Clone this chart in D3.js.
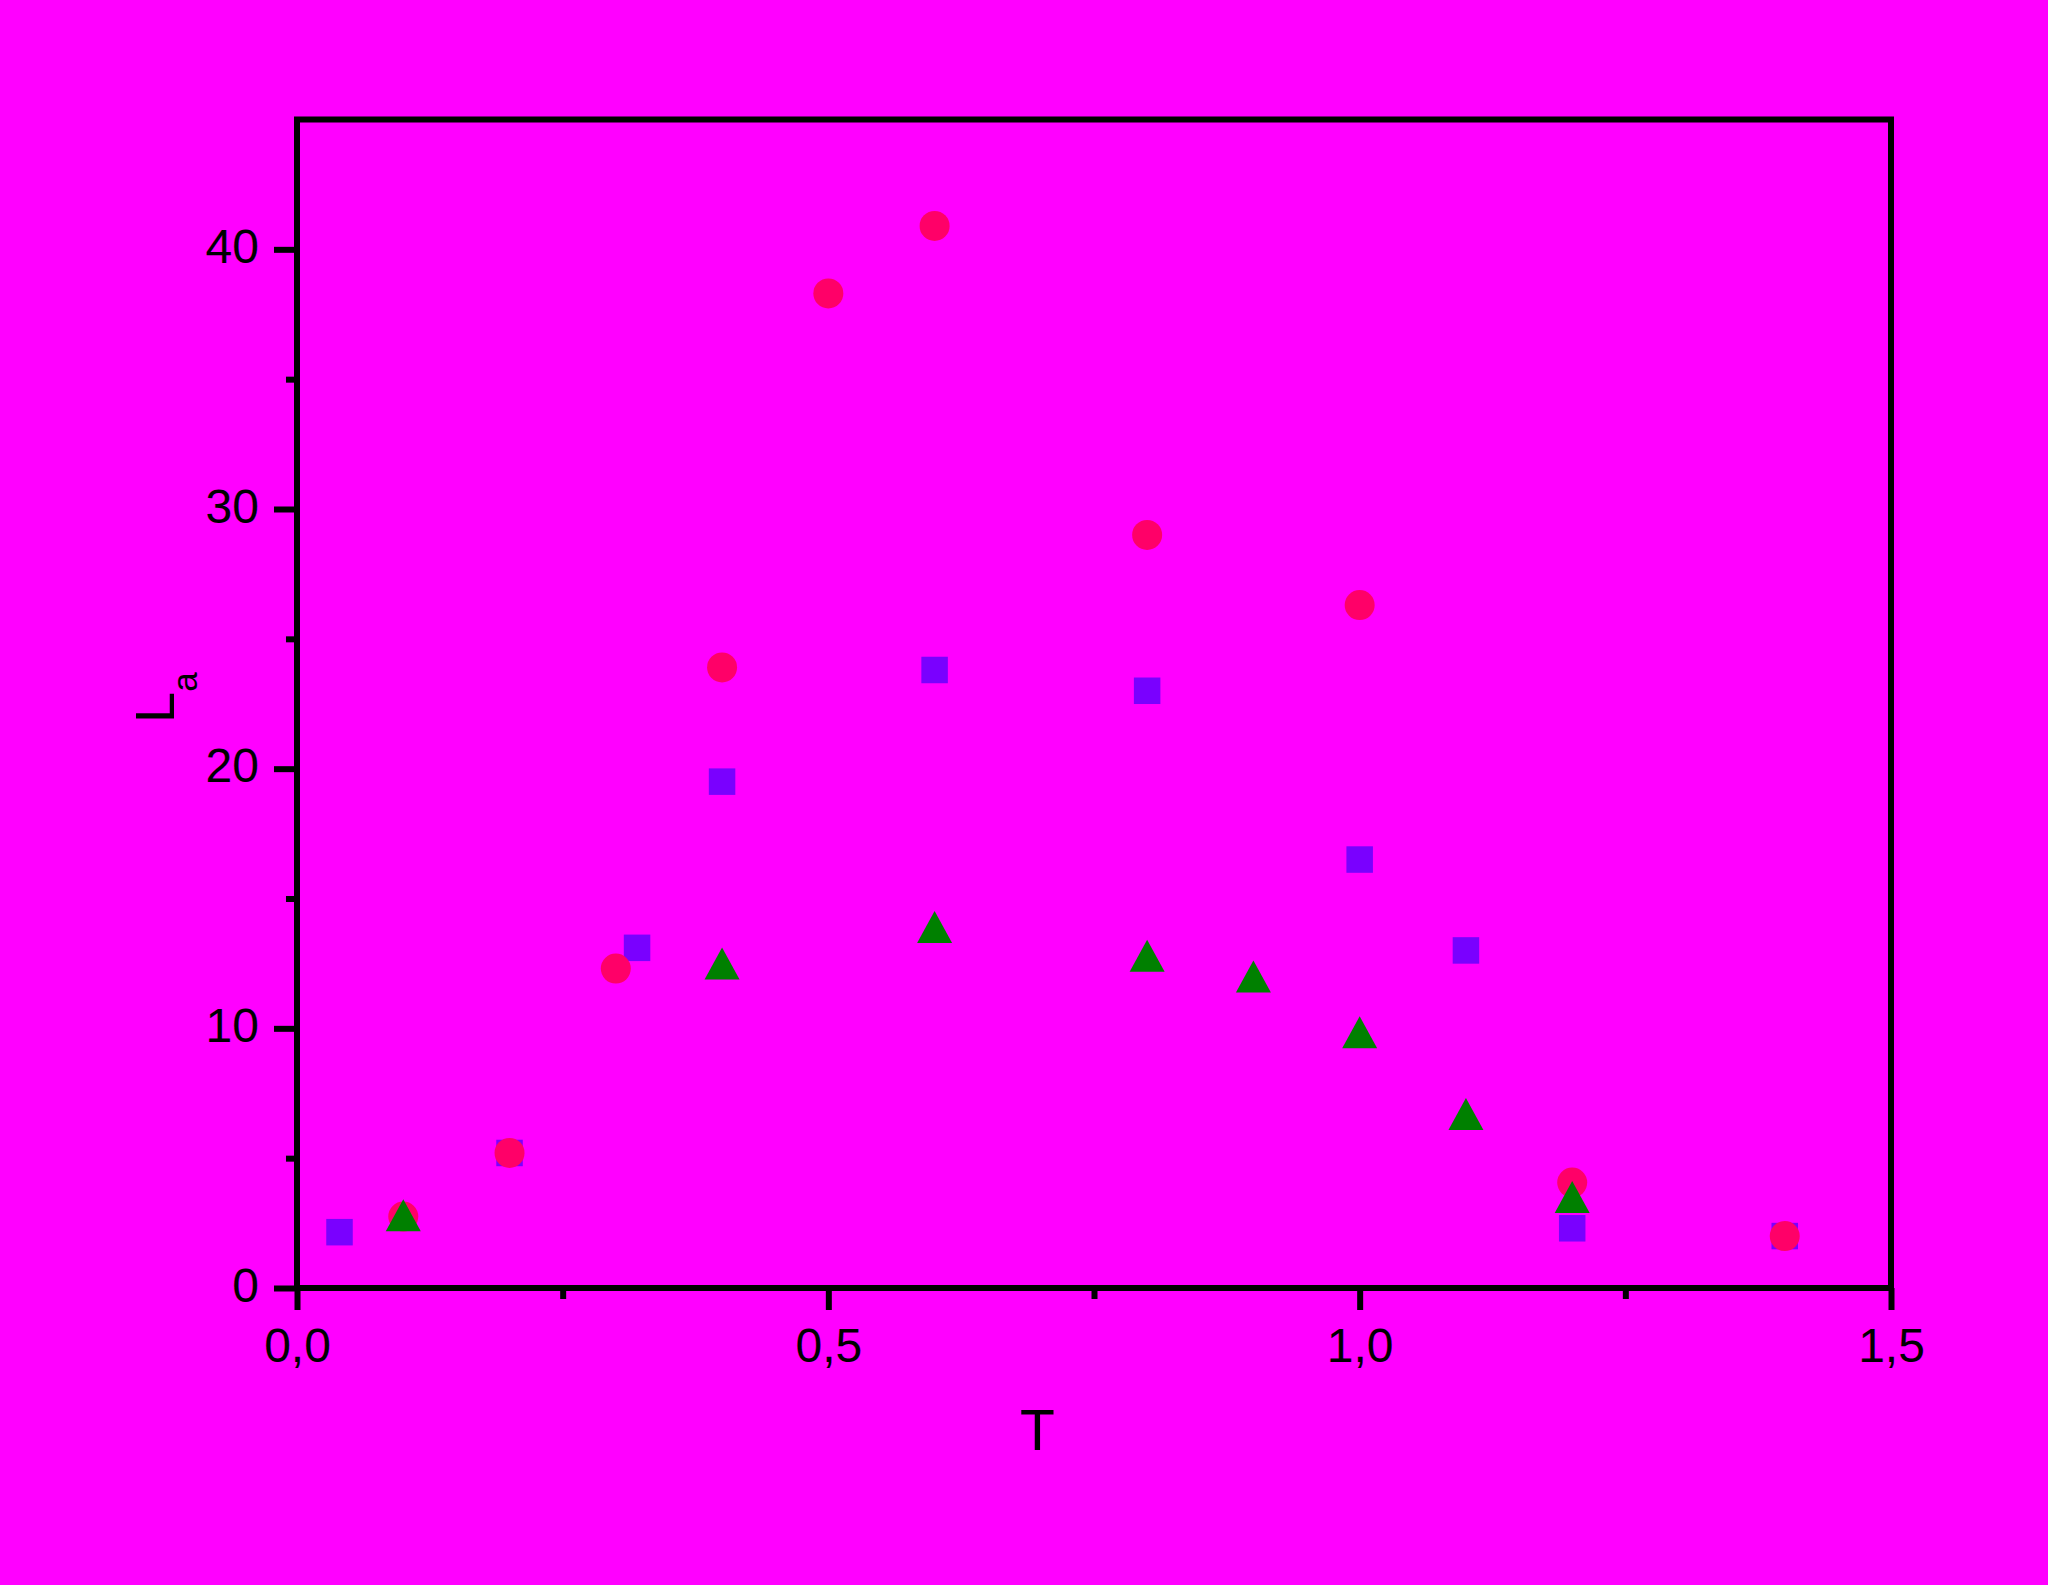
<!DOCTYPE html>
<html>
<head>
<meta charset="utf-8">
<script src="https://cdn.jsdelivr.net/npm/d3@7"></script>
<style>
  html, body { margin: 0; padding: 0; background: #FF00FF; }
  svg { display: block; }
  text { font-family: "Liberation Sans", Arial, sans-serif; fill: #000; }
</style>
</head>
<body>
<svg id="chart" width="2048" height="1585"></svg>
<script>
// ---- data ----
const xMajorTicks = [0, 0.5, 1.0, 1.5];
const xTickLabels = ["0,0", "0,5", "1,0", "1,5"];
const xMinorTicks = [0.25, 0.75, 1.25];
const yMajorTicks = [0, 10, 20, 30, 40];
const yTickLabels = ["0", "10", "20", "30", "40"];
const yMinorTicks = [5, 15, 25, 35];

const squaresT = [0.04, 0.2, 0.32, 0.4, 0.6, 0.8, 1.0, 1.1, 1.2, 1.4];
const squaresL = [2.15, 5.2, 13.1, 19.5, 23.8, 23.0, 16.5, 13.0, 2.3, 2.0];

const circlesT = [0.1, 0.2, 0.3, 0.4, 0.5, 0.6, 0.8, 1.0, 1.2, 1.4];
const circlesL = [2.75, 5.2, 12.3, 23.9, 38.3, 40.9, 29.0, 26.3, 4.06, 2.0];

const trianglesT = [0.1, 0.4, 0.6, 0.8, 0.9, 1.0, 1.1, 1.2];
const trianglesL = [2.8, 12.5, 13.9, 12.8, 12.0, 9.85, 6.7, 3.5];

const xTitle = "T";
const yTitleMain = "L";
const yTitleSub = "a";

// ---- layout ----
const svg = d3.select("#chart");
const x = d3.scaleLinear().domain([0, 1.5]).range([297, 1891]);
const y = d3.scaleLinear().domain([0, 45]).range([1288, 119.5]);

// frame
svg.append("rect")
  .attr("x", x(0)).attr("y", y(45))
  .attr("width", x(1.5) - x(0)).attr("height", y(0) - y(45))
  .attr("fill", "none").attr("stroke", "#000").attr("stroke-width", 6);

// x axis major
const gx = svg.append("g").attr("transform", `translate(0,${y(0)})`)
  .call(d3.axisBottom(x).tickValues(xMajorTicks).tickSize(22).tickSizeOuter(0)
        .tickFormat((d, i) => xTickLabels[i]));
gx.select(".domain").remove();
gx.selectAll(".tick line").attr("stroke", "#000").attr("stroke-width", 6);
gx.selectAll(".tick text").attr("y", 74).attr("dy", 0)
  .style("font-size", "48px").style("font-family", "'Liberation Sans', Arial, sans-serif").attr("fill", "#000");

// x axis minor
const gxm = svg.append("g").attr("transform", `translate(0,${y(0)})`)
  .call(d3.axisBottom(x).tickValues(xMinorTicks).tickSize(11).tickSizeOuter(0).tickFormat(""));
gxm.select(".domain").remove();
gxm.selectAll(".tick line").attr("stroke", "#000").attr("stroke-width", 6);

// y axis major
const gy = svg.append("g").attr("transform", `translate(${x(0)},0)`)
  .call(d3.axisLeft(y).tickValues(yMajorTicks).tickSize(23).tickSizeOuter(0)
        .tickFormat((d, i) => yTickLabels[i]));
gy.select(".domain").remove();
gy.selectAll(".tick line").attr("stroke", "#000").attr("stroke-width", 6);
gy.selectAll(".tick text").attr("x", -38).attr("dy", 13)
  .style("font-size", "48px").style("font-family", "'Liberation Sans', Arial, sans-serif").attr("fill", "#000");

// y axis minor
const gym = svg.append("g").attr("transform", `translate(${x(0)},0)`)
  .call(d3.axisLeft(y).tickValues(yMinorTicks).tickSize(11).tickSizeOuter(0).tickFormat(""));
gym.select(".domain").remove();
gym.selectAll(".tick line").attr("stroke", "#000").attr("stroke-width", 6);

// markers: squares (back), circles, triangles (front)
const sq = 26.5;
svg.append("g").selectAll("rect")
  .data(squaresT.map((t, i) => [t, squaresL[i]]))
  .join("rect")
  .attr("x", d => x(d[0]) - sq / 2).attr("y", d => y(d[1]) - sq / 2)
  .attr("width", sq).attr("height", sq)
  .attr("fill", "#7A00FF");

svg.append("g").selectAll("circle")
  .data(circlesT.map((t, i) => [t, circlesL[i]]))
  .join("circle")
  .attr("cx", d => x(d[0])).attr("cy", d => y(d[1])).attr("r", 15)
  .attr("fill", "#FF0068");

const tw = 35, th = 32;
svg.append("g").selectAll("path")
  .data(trianglesT.map((t, i) => [t, trianglesL[i]]))
  .join("path")
  .attr("transform", d => `translate(${x(d[0])},${y(d[1])})`)
  .attr("d", `M0,${-th / 2}L${tw / 2},${th / 2}L${-tw / 2},${th / 2}Z`)
  .attr("fill", "#008000");

// axis titles
svg.append("text")
  .attr("x", 1037.5).attr("y", 1450)
  .attr("text-anchor", "middle")
  .style("font-size", "57px")
  .text(xTitle);

const yt = svg.append("text")
  .attr("transform", "translate(174,723) rotate(-90)")
  .attr("text-anchor", "start")
  .style("font-size", "56px");
yt.append("tspan").text(yTitleMain);
yt.append("tspan").attr("dy", 23).style("font-size", "35px").text(yTitleSub);
</script>
</body>
</html>
